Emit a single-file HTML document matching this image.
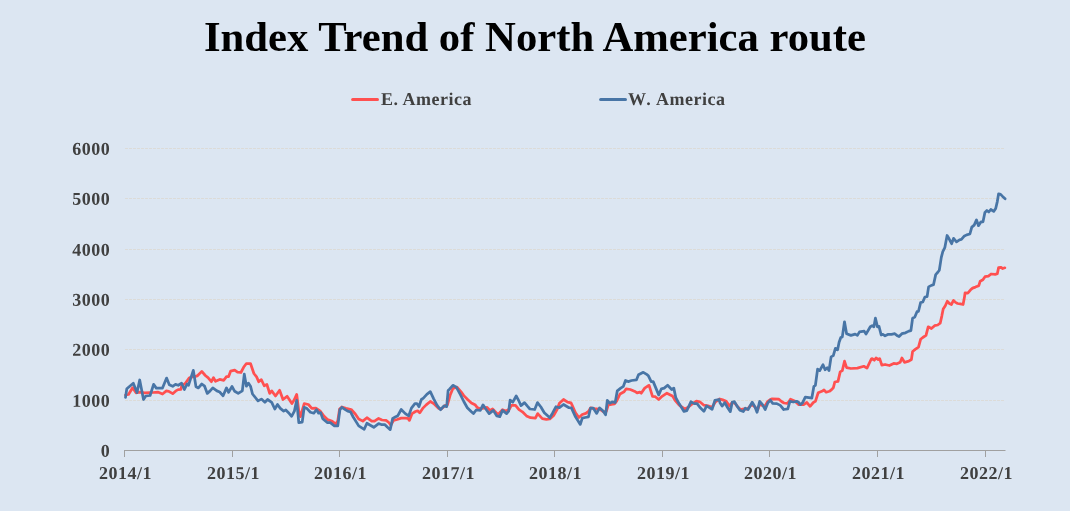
<!DOCTYPE html>
<html><head><meta charset="utf-8"><style>
html,body{margin:0;padding:0;background:#DCE6F2;}
body{width:1070px;height:511px;overflow:hidden;position:relative;}
svg{position:absolute;left:0;top:0;will-change:transform;}
</style></head><body>
<svg width="1070" height="511" viewBox="0 0 1070 511">
<rect width="1070" height="511" fill="#DCE6F2"/>
<text x="535" y="50.5" text-anchor="middle" font-family="'Liberation Serif', serif" font-weight="bold" font-size="42.7" fill="#000">Index Trend of North America route</text>
<g stroke-linecap="round" stroke-width="3">
<line x1="352.6" y1="99.5" x2="377.5" y2="99.5" stroke="#FF5050"/>
<line x1="600.6" y1="99.5" x2="625.5" y2="99.5" stroke="#4875A6"/>
</g>
<g font-family="'Liberation Serif', serif" font-weight="bold" font-size="18" fill="#404040" letter-spacing="0.5">
<text transform="translate(381,105) rotate(0.05) scale(1,1)" text-anchor="start">E. America</text>
<text transform="translate(628,105) rotate(0.05) scale(1,1)" text-anchor="start">W<tspan dx="1.3">.</tspan><tspan dx="0.9"> America</tspan></text>
</g>
<g stroke="#DCDBD8" stroke-width="1" stroke-dasharray="3 1">
<line x1="125" y1="148.5" x2="1005" y2="148.5" />
<line x1="125" y1="198.5" x2="1005" y2="198.5" />
<line x1="125" y1="249.5" x2="1005" y2="249.5" />
<line x1="125" y1="299.5" x2="1005" y2="299.5" />
<line x1="125" y1="349.5" x2="1005" y2="349.5" />
<line x1="125" y1="400.5" x2="1005" y2="400.5" />
</g>
<g font-family="'Liberation Serif', serif" font-weight="bold" font-size="18" fill="#404040" letter-spacing="0.5">
<text transform="translate(110.2,154.8) rotate(0.05) scale(1,1)" text-anchor="end">6000</text>
<text transform="translate(110.2,204.8) rotate(0.05) scale(1,1)" text-anchor="end">5000</text>
<text transform="translate(110.2,255.8) rotate(0.05) scale(1,1)" text-anchor="end">4000</text>
<text transform="translate(110.2,305.8) rotate(0.05) scale(1,1)" text-anchor="end">3000</text>
<text transform="translate(110.2,355.8) rotate(0.05) scale(1,1)" text-anchor="end">2000</text>
<text transform="translate(110.2,406.8) rotate(0.05) scale(1,1)" text-anchor="end">1000</text>
<text transform="translate(110.2,456.8) rotate(0.05) scale(1,1)" text-anchor="end">0</text>
</g>
<g stroke="#A0A0A0" stroke-width="1">
<line x1="124" y1="450.5" x2="1005.5" y2="450.5" />
<line x1="124.5" y1="450" x2="124.5" y2="457" />
<line x1="232.5" y1="450" x2="232.5" y2="457" />
<line x1="339.5" y1="450" x2="339.5" y2="457" />
<line x1="447.5" y1="450" x2="447.5" y2="457" />
<line x1="554.5" y1="450" x2="554.5" y2="457" />
<line x1="662.5" y1="450" x2="662.5" y2="457" />
<line x1="769.5" y1="450" x2="769.5" y2="457" />
<line x1="877.5" y1="450" x2="877.5" y2="457" />
<line x1="985.5" y1="450" x2="985.5" y2="457" />
</g>
<g font-family="'Liberation Serif', serif" font-weight="bold" font-size="18" fill="#404040" letter-spacing="0.5">
<text transform="translate(125.55,479) rotate(0.05) scale(1,1)" text-anchor="middle">2014/1</text>
<text transform="translate(233.55,479) rotate(0.05) scale(1,1)" text-anchor="middle">2015/1</text>
<text transform="translate(340.55,479) rotate(0.05) scale(1,1)" text-anchor="middle">2016/1</text>
<text transform="translate(448.55,479) rotate(0.05) scale(1,1)" text-anchor="middle">2017/1</text>
<text transform="translate(555.55,479) rotate(0.05) scale(1,1)" text-anchor="middle">2018/1</text>
<text transform="translate(663.55,479) rotate(0.05) scale(1,1)" text-anchor="middle">2019/1</text>
<text transform="translate(770.55,479) rotate(0.05) scale(1,1)" text-anchor="middle">2020/1</text>
<text transform="translate(878.55,479) rotate(0.05) scale(1,1)" text-anchor="middle">2021/1</text>
<text transform="translate(986.55,479) rotate(0.05) scale(1,1)" text-anchor="middle">2022/1</text>
</g>
<g fill="none" stroke-width="2.75" stroke-linejoin="round" stroke-linecap="round">
<polyline stroke="#FF5050" points="125.5,395 128.5,394.5 132.6,387.8 136,392.8 139.4,392.2 144.7,392.9 150,392.6 153.1,392.5 157.8,392.1 162.5,394 166.4,390.9 168.8,391.3 172.7,393.7 175.8,390.9 178.2,389.6 180.9,389.4 181.7,385.8 185.2,383.5 189.1,378 191.2,377.1 196.7,376.2 197.7,375.5 201.8,371.4 205.3,375.5 208,377.6 211.4,381.7 213.5,377.6 215.5,381.3 219.7,379.4 223.8,380.3 226.5,376.6 228.6,376.6 230.6,371.2 234.7,370.1 237.5,372.1 240.9,372.5 243.6,367.3 246.4,363.5 250.5,363.5 253.9,373.5 256.6,376.9 258.7,381.7 261.4,379.7 264.2,385.8 266.9,384.5 269.7,393.4 271.7,390.9 275.5,396 279.6,390.3 283,399.5 287.1,396.3 291.9,403.6 294.4,399.5 296.7,394.4 298.8,411.1 300.4,416.6 304.2,403.6 308.4,404.5 311.8,408.4 315.9,408.1 320,410.8 324.1,416.3 327.5,419.6 332.3,421.4 335.8,424.1 337.8,420.7 339.6,409 341.9,407 346,408.4 351.2,409.5 355.3,414 358.7,419 362.8,421.1 366.9,417.7 371.7,421.1 374.5,421.1 378.6,418.4 382,420 386.1,420.4 388.8,422.5 390.9,425.2 393.6,420.4 397.1,419.5 401.2,418.1 405.3,418.1 408,418.4 409.4,420.4 412.1,413.6 415.5,411.5 417.6,410.8 419.7,412.9 421,411 422.7,408.4 426.2,404.9 430.3,401.5 433.7,403.6 438.5,408.4 441.2,409 444.7,405.9 447.4,404.9 450.1,395.3 452.9,388.5 457,387.1 461.1,391.9 463.8,395.6 467.9,399.7 471.4,402.9 475,404.7 477.3,407.6 480.2,408.8 482.3,408.4 487.1,407.3 489.9,410.4 492.6,409 496.7,413.2 498.4,414.1 502.5,409.7 506,411.1 509.4,409 511.4,405.3 515.5,405.3 519,409.7 522.4,411.8 526.5,415.9 530.6,417.7 535.4,418.2 537.7,413.6 542.3,418.6 546.4,419.3 549.8,419 553.9,415.2 557.3,409 559.4,403.2 563.5,399.5 567.6,402.2 571,402.9 572.1,405.2 575.5,412.7 578.9,417.5 582.3,414.5 585.8,413.4 588.5,411.4 590.5,407.9 594.7,408.6 600.1,409.3 603.6,411.8 606.3,411.4 608.4,404.5 611.1,404.5 614.5,403.8 616.6,401.1 620,394 624.1,391.8 626.2,388.8 630.3,389.5 634.4,391.2 637.1,392.9 639.9,392.2 641.2,393.2 644.7,388.1 648.8,385.3 649.1,385.3 652.5,396.3 655.3,396.7 658.7,399.5 662.1,396.3 666.9,393.2 672.4,395.9 675.1,400.4 679.2,405.2 684.7,409 688.2,407.3 691.6,404.5 696.4,401.1 699.8,401.8 703.9,405.2 708,405.9 712.1,407.3 715.5,401.8 719.7,399 722.7,399.9 726.2,401.3 729.6,406.1 732.3,402.3 735.1,403.4 737.1,406.1 740.5,409.5 744,408.8 747.4,409.1 751.5,404.5 754.9,407 757.6,410 759.7,404 762.3,405.5 765.2,406 767.6,401.5 770.2,399.5 772.1,398.9 778.9,399.2 781.5,401.5 784,403 787.1,403.4 788.7,402 790.5,399.2 794.7,400.9 798.8,404.7 803.6,404.6 806.8,402.5 810.1,406.3 813.3,402.5 815.4,401.4 818.2,392.8 821.9,391.3 824,390 826.2,392.2 829.4,391.3 831.6,389.6 833.3,387.8 834.8,382 838,381.4 840.2,371.9 842.3,370.6 844.5,361.2 846.6,367.6 850.9,368.5 857.4,368.1 863.8,366.3 867,368.1 871.3,359 872.2,358.6 874.3,360.2 876,358 878.2,359.5 879.7,358.6 881.8,365.1 885.1,364.5 889.4,365.5 893.7,363.4 896.9,363.8 900.2,362.3 901.9,358 904.5,362.3 908.8,361.2 911.4,359.5 912.6,351.5 915.2,349.4 918.5,347.2 920.6,339.3 922.8,337.5 926,335.4 928.2,326.8 931.4,328.5 934.6,325.7 937.7,325 940.2,323.2 941.8,316.1 943.2,309 945.3,305.8 947.3,301.3 949.4,303.5 951.4,304.5 953.5,300.4 955.5,302.4 957.6,303.5 960.3,303.8 963.1,304.5 964.4,297.6 965.1,292.8 967.8,293.1 970.6,289.8 972.6,288.1 975.4,287.1 978.8,285.7 980.2,281.2 982.9,279.8 985,276.7 988.4,276.1 991.1,274 995.2,274.4 997.3,273.7 998.6,267.6 1000.7,267.3 1002.7,268.5 1004.8,267.8"/>
<polyline stroke="#4875A6" points="125.5,397.4 126.8,388.8 133.3,383.2 137,392.6 139.7,380 143.5,399.5 145.8,396 150.1,395.5 153.6,384.4 156.3,388.1 162.5,388.1 166.6,378.1 169.3,384.7 172.7,386.3 175.5,384.4 178.2,385.3 181.6,383.3 184.4,389.5 187.1,384 188.5,385.3 193.3,370.3 196,386.7 198.4,387.9 201.8,384 204.6,386.2 207.3,393.4 210.1,390.9 212.8,387.9 216.9,390.9 219.7,392 223.1,395.8 226.5,387.9 228.6,392.3 232,386.5 234.7,391.3 238.2,393.4 242.3,390.9 244.3,374.2 246.4,386.2 248.4,383.1 250.5,386.2 252.5,394 258,400.9 261.4,399.1 264.9,402.3 267.6,399.5 271.7,402.3 274.8,409 277.5,404.5 280.3,408.4 283.7,411.1 285.8,410 288.5,412.7 291.6,416.3 294.4,411.1 296.7,400.4 298.8,422.7 302.2,422.1 304.2,407.3 307,408.6 310.4,412.2 313.8,413.2 316.6,409.7 318.6,413.2 320.7,412.7 322.7,418.6 327.5,422.7 330.3,422.7 334.4,425.9 337.8,425.9 339.9,409.7 341.9,407.3 345.3,409.7 347.7,411.2 350.5,411.8 353.2,417 358.7,425.9 364.2,429.3 366.9,423.2 370.3,425.2 373.8,427.3 378.6,423.6 381.3,424.5 384.7,424.5 387.5,427.3 390.2,429.6 392.7,418.4 395.7,416.7 397.7,415.9 401.2,409.5 405.3,413.6 408.7,415.9 411.4,408.1 414.9,403.6 416.9,403.6 419,406.7 420.5,402 421.4,399.5 423.4,398.1 426.8,394.4 430.3,391.6 433.7,398.8 437.1,405.3 440.5,409.7 444,405.9 446.7,406.7 448.1,390.5 449.5,389.2 452.9,385.3 456.3,387.1 460.4,394.7 463.8,401.5 467.3,407.7 471.4,411.8 473.4,413.6 476.2,410 480.3,410.4 483,404.9 485.8,409 489.2,413.6 493.3,410.4 496.7,415.9 499.8,416.6 502.5,410.4 506.6,413.6 508.7,411.1 510.1,400.1 512.8,402.2 516.2,396 519,401.2 521,405.6 524.5,402.6 527.2,405.9 529.9,409 534.7,409.5 537.5,402.6 540.9,407 544.3,412.7 547.1,415.2 549.8,417.7 552.5,413.2 556,406.7 559.4,407.7 563.5,404.5 569,407.7 571.4,407.9 575.5,416.8 580.3,424.4 582.3,418.2 585.1,417.5 588.5,416.8 590.5,408.2 593.3,408.2 596.7,413.4 599.5,407.9 602.9,410.7 605.6,414.8 607.3,400.4 609.7,403.2 612.5,401.8 615.2,402.5 617.3,390.8 620.7,388.1 623.4,386.3 625.5,380.5 628.2,381.6 631.6,380.5 636.4,379.9 638.5,374.8 643.3,372.3 646.7,374.4 648.4,375.8 651.2,381.6 653.2,381.6 658.7,394.9 661.4,388.8 664.2,388.1 667.6,385.3 671.7,389.5 673.8,388.1 675.8,397.7 679.2,403.8 684,411.4 686.8,410.7 690.9,401.8 694.3,403.6 697.1,403.6 699.8,407.3 703.9,411.4 706.6,405.9 712.1,409.3 714.9,400.4 719,399.5 720,402.7 722.1,406.1 724.8,402.7 727.5,407.5 730.3,411.6 732.3,402 734.4,401.7 737.1,406.1 739.9,410.2 743.3,411.6 745.3,408.2 748.1,409.5 752.2,402.3 754.9,406.8 757,412.3 759.7,401.3 762.5,404.7 765.2,409.5 767.9,402.7 770.4,400.3 772.7,403.4 776.8,403.6 780.3,405.4 783.7,409.5 787.8,408.8 789.9,401.3 793.3,402 796.7,401.3 798.2,402 800.4,404.6 802.5,402.9 805.3,397.1 809,397.7 811.8,398.2 813.9,386.3 815.4,385.3 817.6,369.1 819.7,370.6 823,364.8 825.1,369.8 827.3,367.6 829,370.6 831.1,356.9 833.3,355.6 835.4,348.3 837.6,349.8 839.1,342.3 840.8,337.5 842.3,336.9 844.5,321.8 846.6,333.7 850.9,335.4 855.2,334.1 857.4,335.4 859.5,331.9 864.2,331.1 866,334.1 870.3,326.8 872.2,325.7 873.9,326.8 875.4,318.2 877.5,326.8 879,326.3 881.2,335 882.9,334.3 885.1,335.8 888.3,334.3 891.5,334.3 894.8,333.7 896.9,335.4 899.1,336.5 901.9,333.7 905.5,332.8 908.8,331.1 910.9,330.6 912.6,318.2 914.8,317.1 917,311.7 918.5,311.3 920.6,302.6 922.8,302 924.9,297 927.1,296.6 928.6,286.9 931.4,285.4 933.5,284.8 935.7,274.6 937.8,272.3 939.3,270.2 941.3,257.4 942.8,251.6 944.8,247.7 947.1,235.5 949.1,238.8 951.6,243.7 953.6,238.3 956.5,241.8 959.5,239.8 961.4,239.4 964,236.3 966.7,234.9 969.9,234 971.8,227.1 974.2,225.1 976.5,219.9 978.5,225.7 981,221.8 983,221.8 984.9,212.4 986.9,210.5 988.8,212 990.8,209.5 993.7,211.4 995.7,208.5 997.3,201.6 998.6,193.8 1000.6,194.4 1002.6,196.4 1005.1,198.7"/>
</g>
</svg>
</body></html>
